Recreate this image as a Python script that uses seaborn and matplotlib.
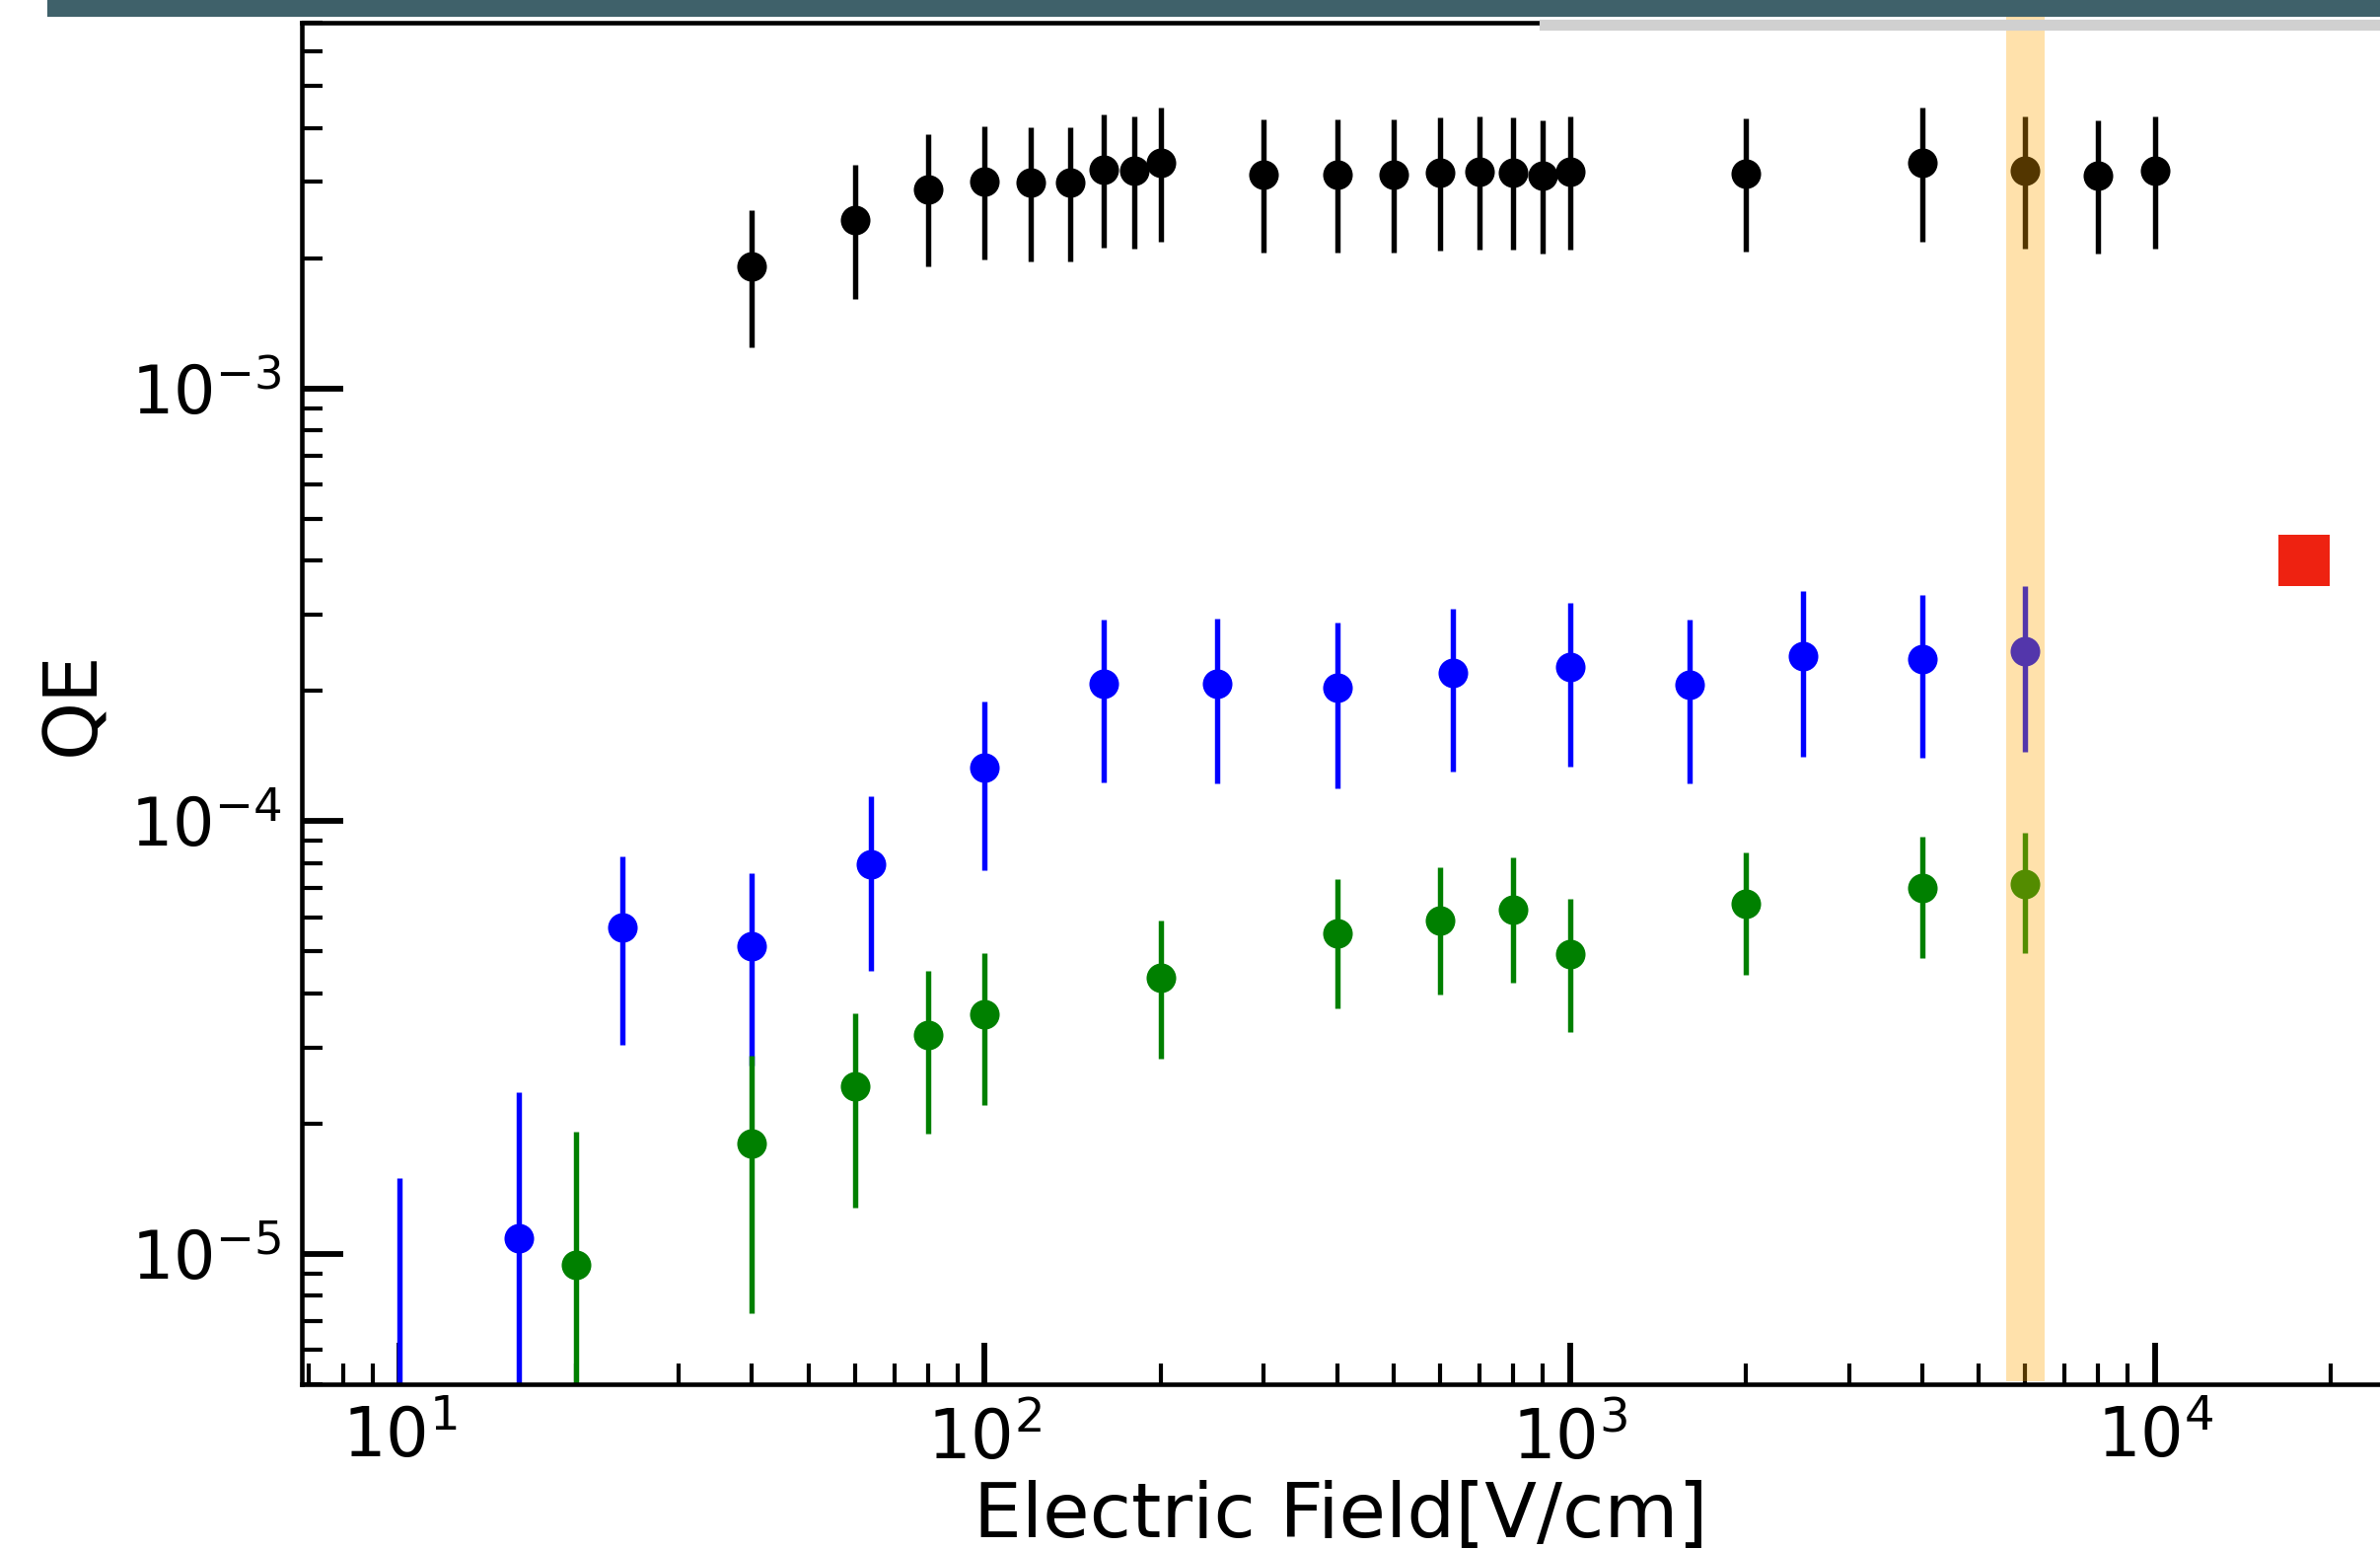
import numpy as np
import pandas as pd
import matplotlib
matplotlib.use('Agg')
import matplotlib.pyplot as plt
import seaborn as sns
from matplotlib.patches import Rectangle

# black series
field_k = [40, 60, 80, 100, 120, 140, 160, 180, 200, 300, 400, 500, 600, 700,
           800, 900, 1000, 2000, 4000, 6000, 8000, 10000]
qe_k = [1.915e-3, 2.45e-3, 2.89e-3, 3.01e-3, 2.99e-3, 2.99e-3, 3.21e-3, 3.18e-3,
        3.32e-3, 3.12e-3, 3.12e-3, 3.12e-3, 3.15e-3, 3.17e-3, 3.16e-3, 3.11e-3,
        3.17e-3, 3.14e-3, 3.32e-3, 3.18e-3, 3.11e-3, 3.18e-3]
err_k = [0.67e-3, 0.84e-3, 0.98e-3, 1.02e-3, 1.02e-3, 1.02e-3, 1.09e-3, 1.08e-3,
         1.14e-3, 1.06e-3, 1.06e-3, 1.06e-3, 1.07e-3, 1.08e-3, 1.07e-3, 1.06e-3,
         1.08e-3, 1.07e-3, 1.14e-3, 1.08e-3, 1.06e-3, 1.08e-3]

# blue series
field_b = [10, 16, 24, 40, 64, 100, 160, 250, 400, 630, 1000, 1600, 2500, 4000, 6000]
qe_b = [2e-6, 1.09e-5, 5.67e-5, 5.15e-5, 7.96e-5, 1.33e-4, 2.08e-4, 2.08e-4,
        2.03e-4, 2.2e-4, 2.27e-4, 2.07e-4, 2.41e-4, 2.37e-4, 2.47e-4]
err_b = [1.3e-5, 1.28e-5, 2.62e-5, 2.43e-5, 3.45e-5, 5.6e-5, 8.5e-5, 8.6e-5,
         8.4e-5, 9.0e-5, 9.3e-5, 8.5e-5, 1.0e-4, 9.7e-5, 1.02e-4]

# green series
field_g = [20, 40, 60, 80, 100, 200, 400, 600, 800, 1000, 2000, 4000, 6000]
qe_g = [9.46e-6, 1.8e-5, 2.44e-5, 3.2e-5, 3.58e-5, 4.35e-5, 5.52e-5, 5.89e-5,
        6.24e-5, 4.93e-5, 6.45e-5, 7.01e-5, 7.17e-5]
err_g = [0.97e-5, 1.07e-5, 1.16e-5, 1.3e-5, 1.37e-5, 1.53e-5, 1.83e-5, 1.92e-5,
         2.0e-5, 1.67e-5, 2.04e-5, 2.18e-5, 2.22e-5]

# single red point
field_r = [1.8e4]
qe_r = [4.0e-4]

band = (5570, 6480)

W, H = 2413, 1570
sns.set_style('ticks', {'axes.edgecolor': 'black', 'xtick.color': 'black',
                        'ytick.color': 'black', 'text.color': 'black',
                        'axes.labelcolor': 'black'})
plt.rcParams['font.family'] = ['DejaVu Sans']
fig = plt.figure(figsize=(W / 300, H / 300), dpi=300)
ax = fig.add_axes([306 / W, 1 - 1403 / H, 1 - 306 / W, (1403 - 23) / H])

series = [(field_k, qe_k, err_k, 'black'),
          (field_b, qe_b, err_b, 'blue'),
          (field_g, qe_g, err_g, 'green')]
for fx, fy, fe, col in series:
    ax.errorbar(fx, fy, yerr=fe, fmt='none', ecolor=col, elinewidth=1.3, capsize=0, zorder=2)
    df = pd.DataFrame({'field': fx, 'qe': fy})
    sns.scatterplot(data=df, x='field', y='qe', color=col, s=52, linewidth=0, ax=ax, zorder=3)

sns.scatterplot(x=field_r, y=qe_r, marker='s', color='#ee2211', s=150, linewidth=0, ax=ax, zorder=3)

ax.set_xscale('log')
ax.set_yscale('log')
ax.set_xlim(6.8, 24270)
ax.set_ylim(5e-6, 7e-3)

ax.axvspan(band[0], band[1], ymin=0.002, ymax=1.007, color='orange', alpha=0.33,
           linewidth=0, zorder=10, clip_on=False)

ax.tick_params(which='both', direction='in', labelsize=16, pad=5, colors='black')
ax.tick_params(axis='x', labelsize=16.5)
ax.tick_params(which='major', length=10, width=1.4)
ax.tick_params(which='minor', length=5, width=1.0)
ax.tick_params(top=False, right=False)
for s in ['left', 'bottom', 'top']:
    ax.spines[s].set_linewidth(1.1)
    ax.spines[s].set_color('black')
ax.spines['right'].set_visible(False)

ax.set_xlabel('Electric Field[V/cm]', fontsize=18.5, labelpad=2, color='black')
ax.set_ylabel('QE', fontsize=18, labelpad=5, color='black')

# decorations at the top edge
fig.add_artist(Rectangle((50 / W, 1 - 15 / H), 1, 20 / H, transform=fig.transFigure,
                         color='#3f616a', zorder=20, clip_on=False))
fig.add_artist(Rectangle((1563 / W, 1 - 29 / H), 1, 7 / H, transform=fig.transFigure,
                         color='#d0d0d0', zorder=20, clip_on=False))

fig.savefig('out.png', dpi=300)
